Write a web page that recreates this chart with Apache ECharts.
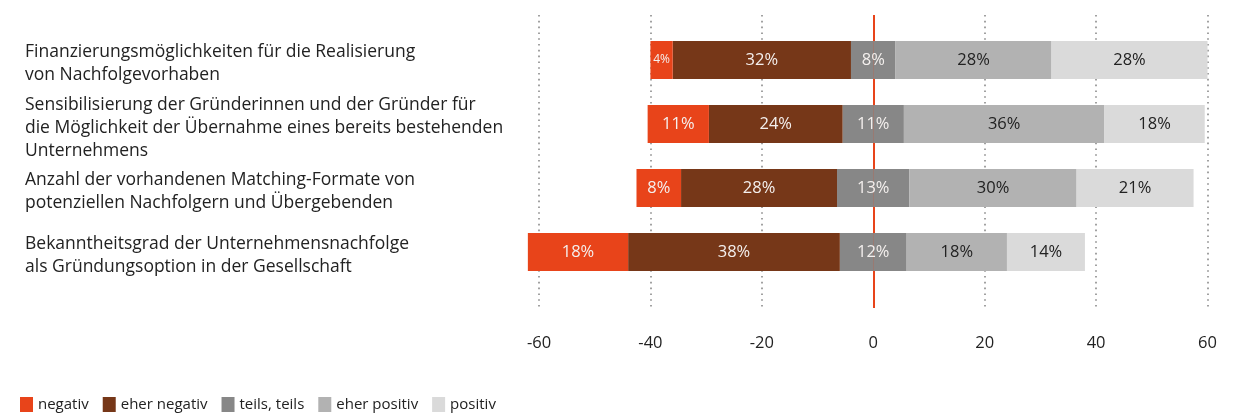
<!DOCTYPE html>
<html>
<head>
<meta charset="utf-8">
<script src="https://cdn.jsdelivr.net/npm/echarts@6/dist/echarts.min.js"></script>
<style>
html,body{margin:0;padding:0;background:#fff;}
#chart{width:1251px;height:417px;}
</style>
</head>
<body>
<div id="chart"></div>
<script>
var categories = [
  'Finanzierungsmöglichkeiten für die Realisierung\nvon Nachfolgevorhaben',
  'Sensibilisierung der Gründerinnen und der Gründer für\ndie Möglichkeit der Übernahme eines bereits bestehenden\nUnternehmens',
  'Anzahl der vorhandenen Matching-Formate von\npotenziellen Nachfolgern und Übergebenden',
  'Bekanntheitsgrad der Unternehmensnachfolge\nals Gründungsoption in der Gesellschaft'
];
var negativ = [4, 11, 8, 18];
var eherNegativ = [32, 24, 28, 38];
var teilsTeils = [8, 11, 13, 12];
var eherPositiv = [28, 36, 30, 18];
var positiv = [28, 18, 21, 14];
var axisTicks = [-60, -40, -20, 0, 20, 40, 60];
var legendNames = ['negativ', 'eher negativ', 'teils, teils', 'eher positiv', 'positiv'];

var FONT = 'Open Sans';
var colors = {
  neg: '#E8441A', eherNeg: '#763718', teils: '#878787', eherPos: '#B2B2B2', pos: '#DADADA'
};
var lightText = '#f4f0ee', darkText = '#222';

function pctLabel(arr, color) {
  return {
    show: true, position: 'inside', color: color, fontFamily: FONT, fontSize: 16.5,
    formatter: function (p) { return arr[p.dataIndex] + '%'; }
  };
}
function items(arr, sign, scale) {
  return arr.map(function (v) {
    var it = { value: sign * v * (scale || 1) };
    if (v < 5) it.label = { fontSize: 12 };
    return it;
  });
}
function barSeries(name, arr, sign, scale, color, label) {
  return {
    type: 'bar', name: name, stack: 'total', xAxisIndex: 1, yAxisIndex: 1,
    barWidth: 38, data: items(arr, sign, scale), clip: false, z: 3,
    itemStyle: { color: color }, label: label, emphasis: { disabled: true }
  };
}

var chart = echarts.init(document.getElementById('chart'));
var option = {
  animation: false,
  textStyle: { fontFamily: FONT },
  legend: {
    data: legendNames, left: 15, top: 392, icon: 'rect',
    itemWidth: 13, itemHeight: 15, itemGap: 14,
    textStyle: { fontFamily: FONT, fontSize: 15, color: darkText },
    selectedMode: false
  },
  grid: [
    { left: 539, right: 43.5, top: 15, height: 293 },
    { left: 539, right: 43.5, top: 28, height: 256 },
    { left: 539, right: 43.5, top: 32, height: 256 }
  ],
  xAxis: [
    {
      gridIndex: 0, type: 'value', min: -60, max: 60, interval: 20,
      axisLine: { show: false }, axisTick: { show: false },
      axisLabel: {
        margin: 27, fontFamily: FONT, fontSize: 16.5, color: darkText,
        formatter: function (v) { return axisTicks.indexOf(v) >= 0 ? String(v) : ''; }
      },
      splitLine: { show: true, lineStyle: { color: '#8a8a8a', width: 1.6, type: [1.6, 4.2] } }
    },
    {
      gridIndex: 1, type: 'value', min: -60, max: 60, interval: 20, show: false,
      splitLine: { show: false }
    },
    {
      gridIndex: 2, type: 'value', min: -60, max: 60, interval: 20, show: false,
      splitLine: { show: false }
    }
  ],
  yAxis: [
    { gridIndex: 0, type: 'value', min: 0, max: 1, show: false, splitLine: { show: false } },
    {
      gridIndex: 1, type: 'category', data: categories, inverse: true,
      axisLine: { show: false }, axisTick: { show: false }, axisLabel: { show: false }
    },
    {
      gridIndex: 2, type: 'category', data: categories, inverse: true,
      axisLine: { show: false }, axisTick: { show: false },
      axisLabel: {
        interval: 0, align: 'left', margin: 514, fontFamily: FONT, fontSize: 17.5,
        lineHeight: 23, color: darkText
      }
    }
  ],
  series: [
    {
      type: 'line', xAxisIndex: 0, yAxisIndex: 0, data: [[0, 0.5]], z: 0,
      showSymbol: false, symbolSize: 0, lineStyle: { width: 0 }, silent: true,
      markLine: {
        silent: true, symbol: ['none', 'none'], label: { show: false }, z: 0,
        lineStyle: { color: '#E8441A', width: 2, type: 'solid' },
        data: [{ xAxis: 0 }]
      }
    },
    barSeries('teils, teils', teilsTeils, -1, 0.5, colors.teils, { show: false }),
    barSeries('teils, teils', teilsTeils, 1, 0.5, colors.teils, {
      show: true, position: [0, '50%'], align: 'center', verticalAlign: 'middle',
      color: lightText, fontFamily: FONT, fontSize: 16.5,
      formatter: function (p) { return teilsTeils[p.dataIndex] + '%'; }
    }),
    barSeries('eher negativ', eherNegativ, -1, 1, colors.eherNeg, pctLabel(eherNegativ, lightText)),
    barSeries('eher positiv', eherPositiv, 1, 1, colors.eherPos, pctLabel(eherPositiv, darkText)),
    barSeries('negativ', negativ, -1, 1, colors.neg, pctLabel(negativ, lightText)),
    barSeries('positiv', positiv, 1, 1, colors.pos, pctLabel(positiv, darkText))
  ]
};
chart.setOption(option);
</script>
</body>
</html>
